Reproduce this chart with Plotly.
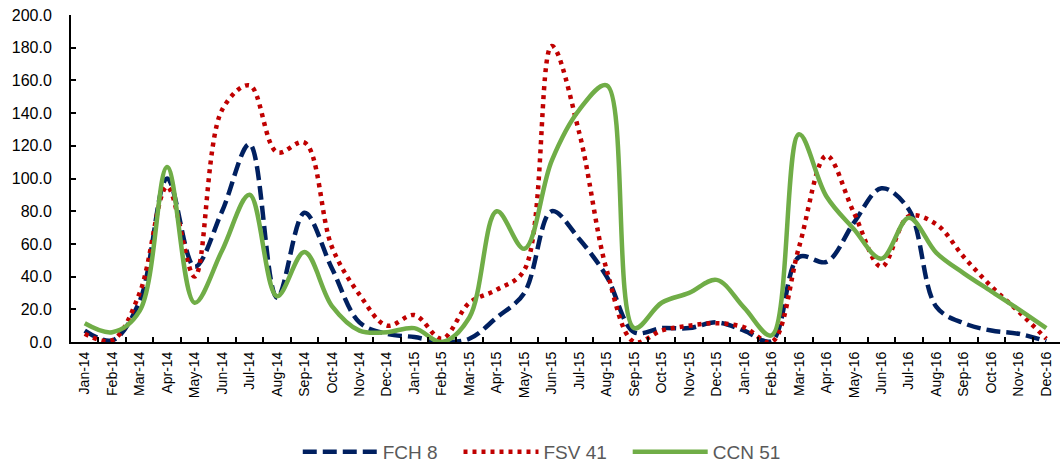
import plotly.graph_objects as go

months = ["Jan-14","Feb-14","Mar-14","Apr-14","May-14","Jun-14","Jul-14","Aug-14","Sep-14","Oct-14","Nov-14","Dec-14",
          "Jan-15","Feb-15","Mar-15","Apr-15","May-15","Jun-15","Jul-15","Aug-15","Sep-15","Oct-15","Nov-15","Dec-15",
          "Jan-16","Feb-16","Mar-16","Apr-16","May-16","Jun-16","Jul-16","Aug-16","Sep-16","Oct-16","Nov-16","Dec-16"]

fch8 = [7, 1, 25, 100, 46, 80, 121, 27, 79, 45, 12, 5,
        3, 0, 2, 15, 30, 80, 63, 40, 6, 8.5, 8.5, 12,
        7, 0.5, 52, 49, 73, 94, 81, 21.5, 11.5, 7, 5, 0.5]

fsv41 = [5, 1, 30, 95, 40, 142, 157, 116, 122, 58, 29, 10,
         16.5, 2, 24, 32, 44, 181, 128, 44, 0, 7, 10, 11.5,
         9, 0, 58, 114, 79, 46, 77, 72, 52, 34, 18.5, 2]

ccn51 = [11.5, 6, 19, 107, 24, 56, 90, 28, 55, 22, 7, 6,
         8.5, 0, 15, 80, 57, 111, 142, 157, 8.5, 24, 30, 38,
         21, 4, 127, 89, 69, 51, 76, 54.5, 42, 31, 20, 8.5]

yticks = [0, 20, 40, 60, 80, 100, 120, 140, 160, 180, 200]

FONT = "Liberation Sans, Arial, sans-serif"
PAD = "\u00a0\u00a0\u00a0"

fig = go.Figure()
fig.add_trace(go.Scatter(x=months, y=fch8, name="FCH 8" + PAD, mode="lines",
                         line=dict(color="#002060", width=4.5, dash="14px,6px", shape="spline", smoothing=1)))
fig.add_trace(go.Scatter(x=months, y=fsv41, name="FSV 41" + PAD, mode="lines",
                         line=dict(color="#C00000", width=4.5, dash="4px,5px", shape="spline", smoothing=1)))
fig.add_trace(go.Scatter(x=months, y=ccn51, name="CCN 51", mode="lines",
                         line=dict(color="#70AD47", width=4.5, shape="spline", smoothing=1)))

fig.update_layout(
    width=1061, height=463,
    margin=dict(l=71, r=1, t=15, b=121, autoexpand=False),
    paper_bgcolor="white", plot_bgcolor="white",
    font=dict(family=FONT, color="#000000"),
    showlegend=True,
    legend=dict(orientation="h", x=0.476, xanchor="center", y=-0.336, yanchor="middle",
                font=dict(size=19, color="#595959", family=FONT), itemwidth=75,
                traceorder="normal", bgcolor="rgba(0,0,0,0)"),
)
fig.update_xaxes(type="category", range=[-0.5, 35.5], showline=True, linecolor="black", linewidth=2,
                 ticks="inside", tickson="boundaries", ticklen=5, tickwidth=2, tickcolor="black",
                 tickangle=-90, tickfont=dict(size=14, family=FONT, color="black"),
                 ticklabelstandoff=2, automargin=False,
                 showgrid=False, zeroline=False)
fig.update_yaxes(range=[0, 200], tickvals=yticks, ticktext=[f"{v:.1f}" for v in yticks],
                 showline=True, linecolor="black", linewidth=2, ticks="inside", ticklen=5,
                 tickwidth=2, tickcolor="black", tickfont=dict(size=16, family=FONT, color="black"),
                 ticklabelstandoff=14, automargin=False,
                 showgrid=False, zeroline=False)

fig.write_html("out.html")
